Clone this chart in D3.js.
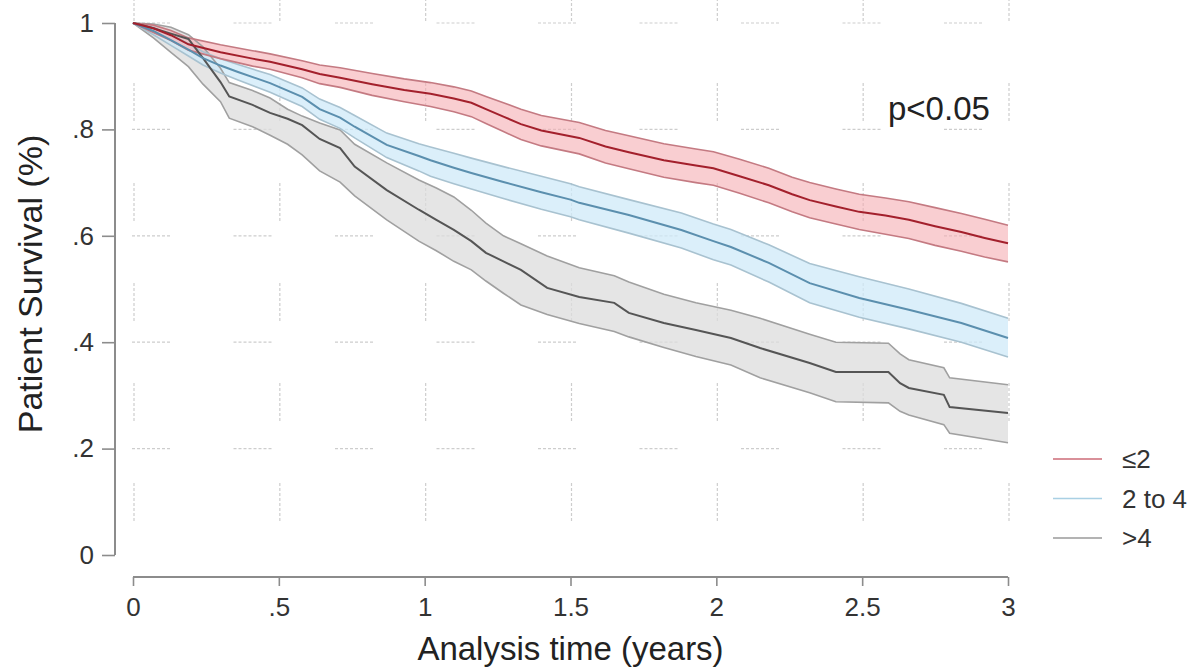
<!DOCTYPE html>
<html>
<head>
<meta charset="utf-8">
<script src="https://cdn.jsdelivr.net/npm/d3@7"></script>
<style>
  body { margin: 0; background: #fff; }
  #plot { font-family: "Liberation Sans", Arial, Helvetica, sans-serif; }
</style>
</head>
<body>
<div id="plot"></div>
<script>

// group labels (legend)
var groups = ["\u22642", "2 to 4", ">4"];

// x and y ticks
var xTicks = [0, 0.5, 1, 1.5, 2, 2.5, 3];
var xTickLabels = ["0", ".5", "1", "1.5", "2", "2.5", "3"];
var yTicks = [0, 0.2, 0.4, 0.6, 0.8, 1];
var yTickLabels = ["0", ".2", ".4", ".6", ".8", "1"];

// <=2 group: time, estimate, lower / upper CI
var timeA = [0, 0.07, 0.13, 0.19, 0.30, 0.41, 0.47, 0.58, 0.64, 0.71, 0.82, 0.93, 1.02, 1.10, 1.16, 1.21, 1.27, 1.33, 1.40, 1.53, 1.62, 1.70, 1.82, 1.93, 1.99, 2.08, 2.18, 2.26, 2.32, 2.41, 2.49, 2.58, 2.66, 2.75, 2.84, 2.92, 3.00];
var survA = [1, 0.990, 0.977, 0.960, 0.945, 0.933, 0.927, 0.913, 0.904, 0.897, 0.885, 0.874, 0.867, 0.858, 0.850, 0.838, 0.824, 0.810, 0.798, 0.784, 0.768, 0.757, 0.742, 0.732, 0.727, 0.712, 0.695, 0.678, 0.667, 0.655, 0.645, 0.638, 0.630, 0.618, 0.607, 0.596, 0.586];
var lowA  = [1, 0.982, 0.967, 0.949, 0.933, 0.919, 0.913, 0.897, 0.886, 0.879, 0.864, 0.852, 0.843, 0.833, 0.824, 0.811, 0.796, 0.781, 0.769, 0.754, 0.737, 0.726, 0.710, 0.700, 0.695, 0.680, 0.662, 0.645, 0.634, 0.622, 0.612, 0.603, 0.595, 0.582, 0.571, 0.560, 0.551];
var highA = [1, 0.996, 0.986, 0.972, 0.959, 0.948, 0.942, 0.929, 0.921, 0.916, 0.905, 0.895, 0.888, 0.880, 0.872, 0.862, 0.850, 0.838, 0.826, 0.813, 0.798, 0.788, 0.773, 0.763, 0.758, 0.744, 0.727, 0.710, 0.700, 0.688, 0.678, 0.671, 0.664, 0.653, 0.642, 0.631, 0.620];

// 2 to 4 group
var timeB = [0, 0.07, 0.13, 0.19, 0.24, 0.30, 0.36, 0.47, 0.58, 0.64, 0.71, 0.76, 0.87, 0.98, 1.02, 1.10, 1.16, 1.27, 1.40, 1.50, 1.53, 1.70, 1.88, 1.99, 2.05, 2.18, 2.32, 2.49, 2.66, 2.84, 3.00];
var survB = [1, 0.985, 0.968, 0.950, 0.934, 0.920, 0.908, 0.887, 0.861, 0.838, 0.822, 0.805, 0.771, 0.750, 0.742, 0.728, 0.718, 0.701, 0.682, 0.668, 0.662, 0.639, 0.611, 0.590, 0.579, 0.549, 0.511, 0.483, 0.461, 0.436, 0.408];
var lowB  = [1, 0.978, 0.958, 0.938, 0.921, 0.906, 0.893, 0.870, 0.843, 0.819, 0.802, 0.784, 0.747, 0.722, 0.712, 0.698, 0.688, 0.670, 0.650, 0.636, 0.630, 0.605, 0.577, 0.555, 0.545, 0.513, 0.474, 0.447, 0.425, 0.400, 0.372];
var highB = [1, 0.992, 0.978, 0.961, 0.946, 0.933, 0.922, 0.903, 0.878, 0.857, 0.841, 0.826, 0.793, 0.773, 0.767, 0.755, 0.746, 0.730, 0.712, 0.698, 0.692, 0.668, 0.643, 0.622, 0.612, 0.583, 0.548, 0.523, 0.500, 0.473, 0.445];

// >4 group
var timeC = [0, 0.07, 0.13, 0.19, 0.24, 0.30, 0.33, 0.41, 0.47, 0.53, 0.58, 0.64, 0.71, 0.76, 0.87, 0.98, 1.04, 1.10, 1.16, 1.21, 1.27, 1.33, 1.42, 1.53, 1.65, 1.70, 1.82, 1.93, 2.05, 2.15, 2.32, 2.41, 2.59, 2.63, 2.66, 2.78, 2.80, 3.00];
var survC = [1, 0.990, 0.980, 0.970, 0.934, 0.889, 0.862, 0.846, 0.831, 0.820, 0.808, 0.782, 0.765, 0.730, 0.686, 0.649, 0.630, 0.611, 0.590, 0.568, 0.552, 0.536, 0.502, 0.485, 0.474, 0.455, 0.436, 0.423, 0.408, 0.389, 0.361, 0.344, 0.344, 0.323, 0.314, 0.301, 0.278, 0.267];
var lowC  = [1, 0.972, 0.945, 0.918, 0.885, 0.852, 0.821, 0.805, 0.789, 0.772, 0.752, 0.722, 0.701, 0.675, 0.630, 0.590, 0.572, 0.552, 0.536, 0.515, 0.492, 0.470, 0.452, 0.435, 0.420, 0.410, 0.390, 0.373, 0.357, 0.333, 0.305, 0.288, 0.286, 0.270, 0.263, 0.245, 0.229, 0.211];
var highC = [1, 0.998, 0.992, 0.978, 0.955, 0.915, 0.888, 0.873, 0.859, 0.838, 0.825, 0.812, 0.799, 0.772, 0.737, 0.705, 0.690, 0.673, 0.648, 0.624, 0.600, 0.585, 0.562, 0.540, 0.525, 0.513, 0.490, 0.474, 0.460, 0.445, 0.415, 0.400, 0.398, 0.378, 0.367, 0.352, 0.333, 0.320];


var width = 1192,
    height = 668;

var svg = d3.select("#plot").append("svg")
    .attr("width", width)
    .attr("height", height);

// scales
var x = d3.scaleLinear().domain([0, 3]).range([133, 1008]);
var y = d3.scaleLinear().domain([0, 1]).range([555, 23]);

// Stata-like broken grid
var grid = svg.append("g").attr("class", "grid");
grid.selectAll(".hgrid")
    .data(yTicks.filter(function(d) { return d > 0; }))
    .enter().append("line")
    .attr("x1", 132).attr("x2", x(3))
    .attr("y1", function(d) { return y(d); })
    .attr("y2", function(d) { return y(d); })
    .style("stroke", "#cdcdcd")
    .style("stroke-width", 1.2)
    .style("stroke-dasharray", "3 2 3 2 3 2 3 2 3 2 3 2 3 2 3 63.5");
grid.selectAll(".vgrid")
    .data(xTicks)
    .enter().append("line")
    .attr("x1", function(d) { return x(d) + 1; })
    .attr("x2", function(d) { return x(d) + 1; })
    .attr("y1", y(1) - 40).attr("y2", y(0))
    .style("stroke", "#cdcdcd")
    .style("stroke-width", 1.2)
    .style("stroke-dasharray", "3 2 3 2 3 2 3 2 3 2 3 2 3 2 3 62");

function rows(t, s, lo, hi) {
    return t.map(function(d, i) { return {t: d, s: s[i], lo: lo[i], hi: hi[i]}; });
}

var series = [
    {data: rows(timeC, survC, lowC, highC), fill: "#dcdcdc", fillOp: 0.75, edge: "#a0a0a0", line: "#555555"},
    {data: rows(timeB, survB, lowB, highB), fill: "#cfe9f8", fillOp: 0.75, edge: "#a8c2d0", line: "#5b8fae"},
    {data: rows(timeA, survA, lowA, highA), fill: "#f5aeb2", fillOp: 0.6, edge: "#c47a82", line: "#a3202c"}
];

var band = d3.area()
    .x(function(d) { return x(d.t); })
    .y0(function(d) { return y(d.lo); })
    .y1(function(d) { return y(d.hi); });

function curveLine(key) {
    return d3.line()
        .x(function(d) { return x(d.t); })
        .y(function(d) { return y(d[key]); });
}

var body = svg.append("g").attr("class", "chart-body");

// CI bands
series.forEach(function(s) {
    body.append("path")
        .attr("d", band(s.data))
        .style("fill", s.fill)
        .style("fill-opacity", s.fillOp)
        .style("stroke", "none");
});
// CI edges
series.forEach(function(s) {
    ["lo", "hi"].forEach(function(k) {
        body.append("path")
            .attr("d", curveLine(k)(s.data))
            .style("fill", "none")
            .style("stroke", s.edge)
            .style("stroke-width", 1.6);
    });
});
// estimates
series.forEach(function(s) {
    body.append("path")
        .attr("d", curveLine("s")(s.data))
        .style("fill", "none")
        .style("stroke", s.line)
        .style("stroke-width", 2);
});

// axes
var axisColor = "#8c8c8c";
var yAxis = svg.append("g")
    .attr("transform", "translate(115,0)")
    .call(d3.axisLeft(y).tickValues(yTicks).tickSize(13).tickPadding(8)
          .tickFormat(function(d, i) { return yTickLabels[i]; }));
var xAxis = svg.append("g")
    .attr("transform", "translate(0,577)")
    .call(d3.axisBottom(x).tickValues(xTicks).tickSize(9).tickPadding(12)
          .tickFormat(function(d, i) { return xTickLabels[i]; }));

[yAxis, xAxis].forEach(function(a) {
    a.select(".domain").style("stroke", axisColor).style("stroke-width", 2);
    a.selectAll(".tick line").style("stroke", axisColor).style("stroke-width", 1.6);
    a.selectAll(".tick text")
        .style("font-family", "'Liberation Sans', Arial, sans-serif")
        .style("font-size", "26px")
        .style("fill", "#333");
});
yAxis.select(".domain").attr("d", "M0," + y(1) + "V" + y(0));
xAxis.select(".domain").attr("d", "M" + x(0) + ",0H" + x(3));

// axis titles
svg.append("text")
    .attr("x", (x(0) + x(3)) / 2)
    .attr("y", 660)
    .attr("text-anchor", "middle")
    .style("font-size", "33px")
    .style("fill", "#222")
    .text("Analysis time (years)");

svg.append("text")
    .attr("transform", "translate(42," + 284 + ") rotate(-90)")
    .attr("text-anchor", "middle")
    .style("font-size", "34px")
    .style("fill", "#222")
    .text("Patient Survival (%)");

// p value
svg.append("text")
    .attr("x", 888)
    .attr("y", 120)
    .style("font-size", "33px")
    .style("fill", "#222")
    .text("p<0.05");

// legend
var legendColors = ["#cc6b77", "#a9d0e4", "#9a9a9a"];
var legend = svg.append("g").attr("class", "legend");
groups.forEach(function(g, i) {
    var ly = 459 + i * 39.5;
    legend.append("line")
        .attr("x1", 1053).attr("x2", 1102)
        .attr("y1", ly).attr("y2", ly)
        .style("stroke", legendColors[i])
        .style("stroke-width", 1.6);
    legend.append("text")
        .attr("x", 1122)
        .attr("y", ly + 9)
        .style("font-size", "26px")
        .style("fill", "#333")
        .text(g);
});

</script>
</body>
</html>
